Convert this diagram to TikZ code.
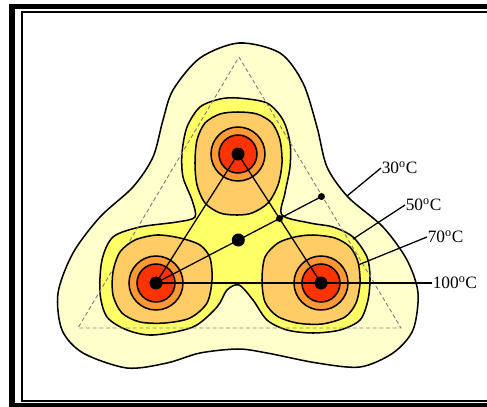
\documentclass[tikz,border=0pt]{standalone}
\usepackage{fontspec}
\setmainfont{Liberation Serif}
\usetikzlibrary{calc}
\definecolor{paleyellow}{HTML}{FFFFCC}
\definecolor{warmyellow}{HTML}{FFFF66}
\definecolor{paleorange}{HTML}{FFCC66}
\definecolor{hotorange}{HTML}{FF9933}
\definecolor{hotred}{HTML}{FF3300}
\begin{document}
\begin{tikzpicture}[x=0.3mm,y=-0.3mm,
    contour/.style={draw=black,line width=1.3pt},
    guide/.style={gray,line width=0.8pt,dash pattern=on 1.2mm off 0.8mm},
    link/.style={black,line width=1.1pt},
    lbl/.style={anchor=west,inner sep=0.5pt,font=\fontsize{14.8}{17}\selectfont}]
        \useasboundingbox (0,0) rectangle (487,406);
        \clip (0,0) rectangle (487,406);
        \def\rout{27}
        \def\rin{19}
        \def\rdot{6.5}
        \coordinate (Ts) at (238,154);
        \coordinate (Ls) at (156,283);
        \coordinate (Rs) at (321,283);
        \coordinate (M) at ($(Ts)!0.5!(Rs)$);
        \coordinate (G) at ($(Ls)!2/3!(M)$);
        \coordinate (E) at ($(Ls)!1.34!(M)$);
        \coordinate (p30) at (347,196);
        \coordinate (p50) at (353,239);
        \coordinate (p70) at (358,265);
        %Frame
        \fill[white] (0,0) rectangle (487,406);
        \draw[line width=1.6mm] (495,6.5) -- (12,6.5) -- (12,406) -- (495,406);
        \draw[line width=0.6mm] (495,11.8) -- (22,11.8) -- (22,400.8) -- (495,400.8);
        %Color fill
        \filldraw[contour,fill=paleyellow] plot[smooth cycle] coordinates {
          (239,43) (280,53) (303,83) (317,127) (327,167) (348,197) (383,227)
          (407,260) (418,293) (413,330) (393,353) (360,367) (317,363) (267,353)
          (238,349) (200,353) (167,363) (127,368) (83,353) (62,330) (58,293)
          (73,253) (100,217) (133,187) (153,157) (163,120) (173,90) (200,58)};
        \filldraw[contour,fill=warmyellow] plot[smooth cycle] coordinates {
          (238,98) (267,103) (283,120) (290,143) (290,167) (285,193) (282,215)
          (310,223) (333,227) (353,237) (367,257) (370,277) (368,300) (360,320)
          (340,330) (313,333) (287,330) (267,320) (253,300) (239,285) (227,290)
          (217,307) (193,327) (153,335) (127,330) (107,317) (100,293) (102,260)
          (113,237) (140,227) (177,222) (195,217) (192,200) (183,177) (182,153)
          (187,127) (200,107) (220,99)};
        \draw[guide] (239,57) -- (401,328) -- (78,328) -- cycle;
        \filldraw[contour,fill=paleorange] plot[smooth cycle] coordinates {
          (238,112) (257,114) (272,123) (280,140) (282,163) (278,185) (268,203)
          (252,213) (237,215) (220,213) (205,203) (197,185) (195,163) (197,140)
          (205,123) (220,114)};
        \filldraw[contour,fill=paleorange] plot[smooth cycle] coordinates {
          (157,235) (180,238) (200,245) (210,258) (212,280) (207,303) (190,318)
          (165,323) (140,322) (122,313) (113,295) (113,272) (120,252) (135,240)};
        \filldraw[contour,fill=paleorange] plot[smooth cycle] coordinates {
          (313,235) (335,238) (350,247) (358,262) (360,283) (356,303) (345,317)
          (322,324) (297,323) (277,316) (265,302) (262,280) (265,257) (278,243)
          (295,237)};
        \foreach \s in {Ts,Ls,Rs} {
            \filldraw[contour,fill=hotorange] (\s) circle (\rout);
            \filldraw[contour,fill=hotred] (\s) circle (\rin);
          }
        %Draw labels
        \node[lbl] (t30) at (381,168) {30\textsuperscript{o}C};
        \node[lbl] (t50) at (405,205) {50\textsuperscript{o}C};
        \node[lbl] (t70) at (427,237) {70\textsuperscript{o}C};
        \node[lbl] (t100) at (432,283) {100\textsuperscript{o}C};
        \draw[link] (p30) -- (t30.west);
        \draw[link] (p50) -- (t50.west);
        \draw[link] (p70) -- (t70.west);
        %Draw lines
        \draw[link] (Ts) -- (Ls);
        \draw[link] (Ts) -- (Rs);
        \draw[link] (Ls) -- (t100.west);
        \draw[link] (Ls) -- (E);
        \foreach \s in {Ts,Ls,Rs} {
            \fill (\s) circle (\rdot);
          }
        \fill (G) circle (\rdot);
        \fill (M) circle (3.5);
        \fill (E) circle (3.5);
      \end{tikzpicture}
\end{document}
